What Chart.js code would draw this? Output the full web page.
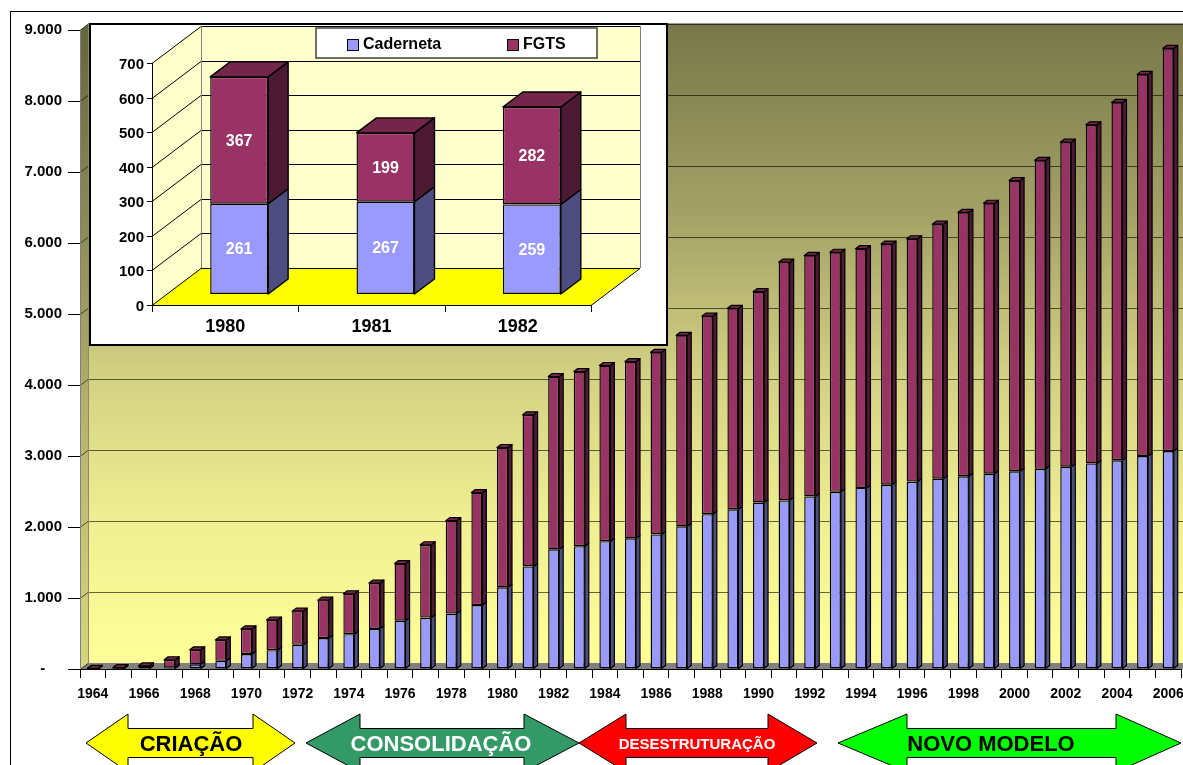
<!DOCTYPE html>
<html>
<head>
<meta charset="utf-8">
<script src="https://cdn.jsdelivr.net/npm/chart.js@4.4.1/dist/chart.umd.min.js"></script>
<style>
  html, body { margin: 0; padding: 0; background: #fff; overflow: hidden; }
  #wrap { position: relative; width: 1183px; height: 765px; overflow: hidden; }
  #main { position: absolute; left: 0; top: 0; }
  #inset { position: absolute; left: 0; top: 0; }
</style>
</head>
<body>
<div id="wrap">
  <canvas id="main" width="1200" height="800"></canvas>
  <canvas id="inset" width="680" height="360"></canvas>
</div>
<script>
// ---- Main series: yearly balances (R$ milhões) ----
const years = ['1964','1965','1966','1967','1968','1969','1970','1971','1972','1973',
               '1974','1975','1976','1977','1978','1979','1980','1981','1982','1983',
               '1984','1985','1986','1987','1988','1989','1990','1991','1992','1993',
               '1994','1995','1996','1997','1998','1999','2000','2001','2002','2003',
               '2004','2005','2006'];
const caderneta = [2, 3, 6, 20, 65, 115, 210, 265, 340, 435,
                   490, 565, 680, 725, 780, 900, 1150, 1445, 1685, 1730,
                   1800, 1840, 1895, 2010, 2180, 2250, 2345, 2375, 2430, 2495,
                   2550, 2595, 2640, 2680, 2715, 2750, 2785, 2820, 2850, 2895,
                   2940, 3000, 3070];
const fgts = [8, 17, 39, 110, 205, 295, 355, 425, 475, 535,
              570, 645, 805, 1025, 1310, 1585, 1970, 2135, 2435, 2460,
              2475, 2490, 2565, 2690, 2790, 2830, 2970, 3355, 3395, 3375,
              3370, 3390, 3420, 3585, 3715, 3810, 4095, 4345, 4570, 4770,
              5040, 5375, 5670];
const yTickLabels = ['-    ', '1.000', '2.000', '3.000', '4.000', '5.000', '6.000', '7.000', '8.000', '9.000'];

// ---- Inset series: 1980-1982 detail ----
const insetYears = ['1980', '1981', '1982'];
const insetCaderneta = [261, 267, 259];
const insetFgts = [367, 199, 282];

// ---- Period banners under the axis ----
const periodNames = ['CRIAÇÃO', 'CONSOLIDAÇÃO', 'DESESTRUTURAÇÃO', 'NOVO MODELO'];

const FONT = "'Liberation Sans', Arial, Helvetica, sans-serif";
const COL = {
  cadFront: '#9999ff', cadSide: '#4d4d80',
  fgFront: '#993366', fgSide: '#4d1a33', fgTop: '#732649'
};

function poly(ctx, pts, fill, stroke, lw) {
  ctx.beginPath();
  ctx.moveTo(pts[0][0], pts[0][1]);
  for (let k = 1; k < pts.length; k++) ctx.lineTo(pts[k][0], pts[k][1]);
  ctx.closePath();
  if (fill) { ctx.fillStyle = fill; ctx.fill(); }
  if (stroke) { ctx.strokeStyle = stroke; ctx.lineWidth = lw || 1; ctx.stroke(); }
}
function line(ctx, x1, y1, x2, y2, color, lw) {
  ctx.beginPath(); ctx.moveTo(x1, y1); ctx.lineTo(x2, y2);
  ctx.strokeStyle = color; ctx.lineWidth = lw || 1; ctx.stroke();
}

// Side faces and top caps for stacked columns
function makeBar3d(dx, dy, lw) {
  return {
    id: 'bar3d',
    afterDatasetsDraw(chart) {
      const ctx = chart.ctx;
      const sides = [COL.cadSide, COL.fgSide];
      const metas = chart.data.datasets.map((d, i) => chart.getDatasetMeta(i));
      const n = chart.data.labels.length;
      ctx.save();
      ctx.lineJoin = 'round';
      for (let i = 0; i < n; i++) {
        metas.forEach((meta, di) => {
          const el = meta.data[i];
          const p = el.getProps(['x', 'y', 'base', 'width'], true);
          const xl = p.x - p.width / 2, xr = p.x + p.width / 2;
          const top = Math.min(p.y, p.base), bot = Math.max(p.y, p.base);
          poly(ctx, [[xr, top], [xr + dx, top - dy], [xr + dx, bot - dy], [xr, bot]], sides[di], '#000', lw);
          if (di === metas.length - 1) {
            poly(ctx, [[xl, top], [xl + dx, top - dy], [xr + dx, top - dy], [xr, top]], COL.fgTop, '#000', lw);
          }
        });
      }
      ctx.restore();
    }
  };
}

// Back wall, side wall, floor and grid of the main chart
const mainWalls = {
  id: 'mainWalls',
  beforeDraw(chart) {
    const ctx = chart.ctx;
    ctx.save();
    ctx.fillStyle = '#ffffff';
    ctx.fillRect(0, 0, chart.width, chart.height);
    ctx.strokeStyle = '#000';
    ctx.lineWidth = 1;
    ctx.strokeRect(10.5, 11.5, 3000, 3000);
    ctx.restore();
  },
  beforeDatasetsDraw(chart) {
    const ctx = chart.ctx;
    const a = chart.chartArea, y = chart.scales.y;
    const dx = 8, dy = 6;
    const bx = a.left + dx, right = chart.width;
    const yTop = y.getPixelForValue(9000), y0 = y.getPixelForValue(0);
    ctx.save();
    // back wall
    const g = ctx.createLinearGradient(0, yTop - dy, 0, y0 - dy);
    g.addColorStop(0, '#777749');
    g.addColorStop(0.3, '#a4a266');
    g.addColorStop(0.55, '#d3d182');
    g.addColorStop(0.78, '#f0ef92');
    g.addColorStop(1, '#ffff99');
    ctx.fillStyle = g;
    ctx.fillRect(bx, yTop - dy, right - bx, (y0 - dy) - (yTop - dy));
    // side wall
    const gs = ctx.createLinearGradient(0, yTop, 0, y0);
    gs.addColorStop(0, '#66663c');
    gs.addColorStop(0.3, '#8c8a55');
    gs.addColorStop(0.6, '#b5b36c');
    gs.addColorStop(1, '#d6d67c');
    poly(ctx, [[a.left, yTop], [bx, yTop - dy], [bx, y0 - dy], [a.left, y0]], gs);
    // floor
    poly(ctx, [[a.left, y0], [bx, y0 - dy], [right, y0 - dy], [right, y0]], '#808080');
    // grid
    y.ticks.forEach(t => {
      const py = Math.round(y.getPixelForValue(t.value)) + 0.5;
      if (t.value > 0) line(ctx, bx, py - dy, right, py - dy, 'rgba(0,0,0,0.6)', 1);
      line(ctx, a.left, py, bx, py - dy, 'rgba(0,0,0,0.6)', 1);
    });
    // wall edges
    line(ctx, bx + 0.5, yTop - dy, bx + 0.5, y0 - dy, '#8a8a70', 1);
    line(ctx, bx, yTop - dy - 0.5, right, yTop - dy - 0.5, '#a0a0a0', 1);
    line(ctx, a.left + 0.5, yTop, a.left + 0.5, y0, '#808080', 1);
    // axis line continues left of the wall
    line(ctx, 68, Math.round(y0) + 0.5, a.left, Math.round(y0) + 0.5, '#000', 1);
    ctx.restore();
  }
};

// Double-headed period arrows below the axis
const periodArrows = {
  id: 'periodArrows',
  afterDraw(chart, args, opts) {
    const ctx = chart.ctx;
    const cy = 743, bh = 14.5, hh = 29;
    ctx.save();
    opts.items.forEach((it, i) => {
      const [tl, bl, br, tr] = it.xs;
      poly(ctx, [[tl, cy], [bl, cy - hh], [bl, cy - bh], [br, cy - bh], [br, cy - hh], [tr, cy],
                 [br, cy + hh], [br, cy + bh], [bl, cy + bh], [bl, cy + hh]], it.fill, '#000', 1);
      ctx.fillStyle = it.text;
      ctx.font = `bold ${it.size}px ${FONT}`;
      ctx.textAlign = 'center';
      ctx.textBaseline = 'middle';
      ctx.fillText(periodNames[i], it.tx, cy + 2);
    });
    ctx.restore();
  }
};

new Chart(document.getElementById('main'), {
  type: 'bar',
  data: {
    labels: years,
    datasets: [
      { label: 'Caderneta', data: caderneta, backgroundColor: COL.cadFront, borderColor: '#000',
        borderWidth: 1.4, borderSkipped: false, barPercentage: 0.43, categoryPercentage: 1 },
      { label: 'FGTS', data: fgts, backgroundColor: COL.fgFront, borderColor: '#000',
        borderWidth: 1.4, borderSkipped: false, barPercentage: 0.43, categoryPercentage: 1 }
    ]
  },
  options: {
    responsive: false,
    animation: false,
    devicePixelRatio: 1,
    layout: { padding: { left: 0, right: 19, top: 30, bottom: 101 } },
    plugins: {
      legend: { display: false },
      tooltip: { enabled: false },
      periodArrows: {
        items: [
          { xs: [86, 128, 253, 295], fill: '#ffff00', text: '#000', size: 22, tx: 191 },
          { xs: [306, 360, 524, 579], fill: '#339966', text: '#fff', size: 22, tx: 441 },
          { xs: [579, 626, 768, 817], fill: '#ff0000', text: '#fff', size: 15, tx: 697 },
          { xs: [838, 907, 1116, 1181], fill: '#00ff00', text: '#000', size: 22, tx: 991 }
        ]
      }
    },
    scales: {
      x: {
        stacked: true,
        grid: { drawOnChartArea: false, drawTicks: true, tickLength: 9, color: '#000', offset: true },
        border: { display: true, color: '#000', width: 1 },
        ticks: {
          autoSkip: false, maxRotation: 0, minRotation: 0, padding: 8, color: '#000',
          font: { family: FONT, size: 14, weight: 'bold' },
          callback: (v, i) => (i % 2 === 0 ? years[i] : '')
        },
        afterFit: s => { s.height = 30; }
      },
      y: {
        stacked: true, min: 0, max: 9000,
        grid: { drawOnChartArea: false, drawTicks: true, tickLength: 12, color: '#000' },
        border: { display: false },
        ticks: {
          stepSize: 1000, padding: 6, color: '#000',
          font: { family: FONT, size: 15, weight: 'bold' },
          callback: (v, i) => yTickLabels[i]
        },
        afterFit: s => { s.width = 80; }
      }
    }
  },
  plugins: [mainWalls, makeBar3d(4, 3, 1.2), periodArrows]
});

// ---- Inset chart ----
const insetFrame = {
  id: 'insetFrame',
  beforeDraw(chart) {
    const ctx = chart.ctx;
    const a = chart.chartArea, y = chart.scales.y, x = chart.scales.x;
    const fdx = -14, fdy = 11;   // front axis plane
    const bdx = 35, bdy = -26;   // back wall plane
    ctx.save();
    // frame
    ctx.fillStyle = '#fff';
    ctx.fillRect(90, 24, 577, 321);
    ctx.strokeStyle = '#000';
    ctx.lineWidth = 2;
    ctx.strokeRect(90, 24, 577, 321);

    const fL = a.left + fdx, fR = a.right + fdx;
    const bL = a.left + bdx, bR = a.right + bdx;
    const yF = v => y.getPixelForValue(v) + fdy;
    const yB = v => y.getPixelForValue(v) + bdy;
    const vmax = y.max;
    // back and side walls
    ctx.fillStyle = '#ffffcc';
    ctx.fillRect(bL, yB(vmax), bR - bL, yB(0) - yB(vmax));
    poly(ctx, [[fL, yF(vmax)], [bL, yB(vmax)], [bL, yB(0)], [fL, yF(0)]], '#ffffcc');
    // floor
    poly(ctx, [[fL, yF(0)], [bL, yB(0)], [bR, yB(0)], [fR, yF(0)]], '#ffff00');
    // grid lines on walls
    y.ticks.forEach(t => {
      const pb = Math.round(yB(t.value)) + 0.5, pf = Math.round(yF(t.value)) + 0.5;
      line(ctx, bL, pb, bR, pb, '#000', 1);
      line(ctx, fL, pf, bL, pb, '#000', 1);
    });
    line(ctx, bL + 0.5, yB(vmax), bL + 0.5, yB(0), '#808080', 1);
    line(ctx, bR + 0.5, yB(vmax), bR + 0.5, yB(0), '#808080', 1);
    line(ctx, fR, Math.round(yF(0)) + 0.5, bR, Math.round(yB(0)) + 0.5, '#000', 1);
    // front axes
    line(ctx, fL + 0.5, yF(vmax), fL + 0.5, yF(0) + 0.5, '#000', 1);
    line(ctx, fL, Math.round(yF(0)) + 0.5, fR, Math.round(yF(0)) + 0.5, '#000', 1);
    ctx.fillStyle = '#000';
    ctx.font = `bold 15px ${FONT}`;
    ctx.textAlign = 'right';
    ctx.textBaseline = 'middle';
    y.ticks.forEach(t => {
      const pf = Math.round(yF(t.value)) + 0.5;
      line(ctx, fL - 5, pf, fL, pf, '#000', 1);
      ctx.fillText(String(t.value), fL - 8, pf + 1);
    });
    const step = (a.right - a.left) / insetYears.length;
    for (let i = 0; i <= insetYears.length; i++) {
      const px = Math.round(fL + i * step) + 0.5;
      line(ctx, px, yF(0), px, yF(0) + 7, '#000', 1);
    }
    ctx.font = `bold 18px ${FONT}`;
    ctx.textAlign = 'center';
    insetYears.forEach((lab, i) => {
      ctx.fillText(lab, x.getPixelForValue(i) + fdx, 327);
    });
    ctx.restore();
  },
  afterDraw(chart) {
    const ctx = chart.ctx;
    ctx.save();
    // value labels
    ctx.fillStyle = '#fff';
    ctx.font = `bold 16px ${FONT}`;
    ctx.textAlign = 'center';
    ctx.textBaseline = 'middle';
    chart.data.datasets.forEach((ds, di) => {
      chart.getDatasetMeta(di).data.forEach((el, i) => {
        ctx.fillText(String(ds.data[i]), el.x, (el.y + el.base) / 2 + 1);
      });
    });
    // legend
    ctx.fillStyle = '#fff';
    ctx.fillRect(316, 28, 281, 30);
    ctx.strokeStyle = '#404040';
    ctx.lineWidth = 1.5;
    ctx.strokeRect(316, 28, 281, 30);
    const lx = [347, 507];
    ctx.font = `bold 16px ${FONT}`;
    ctx.textAlign = 'left';
    chart.data.datasets.forEach((ds, di) => {
      ctx.fillStyle = ds.backgroundColor;
      ctx.fillRect(lx[di], 39, 11, 11);
      ctx.strokeStyle = '#000';
      ctx.lineWidth = 1;
      ctx.strokeRect(lx[di] + 0.5, 39.5, 11, 11);
      ctx.fillStyle = '#000';
      ctx.fillText(ds.label, lx[di] + 16, 45);
    });
    ctx.restore();
  }
};

new Chart(document.getElementById('inset'), {
  type: 'bar',
  data: {
    labels: insetYears,
    datasets: [
      { label: 'Caderneta', data: insetCaderneta, backgroundColor: COL.cadFront, borderColor: '#000',
        borderWidth: 1.4, borderSkipped: false, barPercentage: 0.396, categoryPercentage: 1 },
      { label: 'FGTS', data: insetFgts, backgroundColor: COL.fgFront, borderColor: '#000',
        borderWidth: 1.4, borderSkipped: false, barPercentage: 0.396, categoryPercentage: 1 }
    ]
  },
  options: {
    responsive: false,
    animation: false,
    devicePixelRatio: 1,
    layout: { padding: { left: 166, right: 75, top: 52, bottom: 66 } },
    plugins: { legend: { display: false }, tooltip: { enabled: false } },
    scales: {
      x: { stacked: true, display: false },
      y: { stacked: true, display: false, min: 0, max: 700, ticks: { stepSize: 100 } }
    }
  },
  plugins: [insetFrame, makeBar3d(20, 15, 1.4)]
});
</script>
</body>
</html>
